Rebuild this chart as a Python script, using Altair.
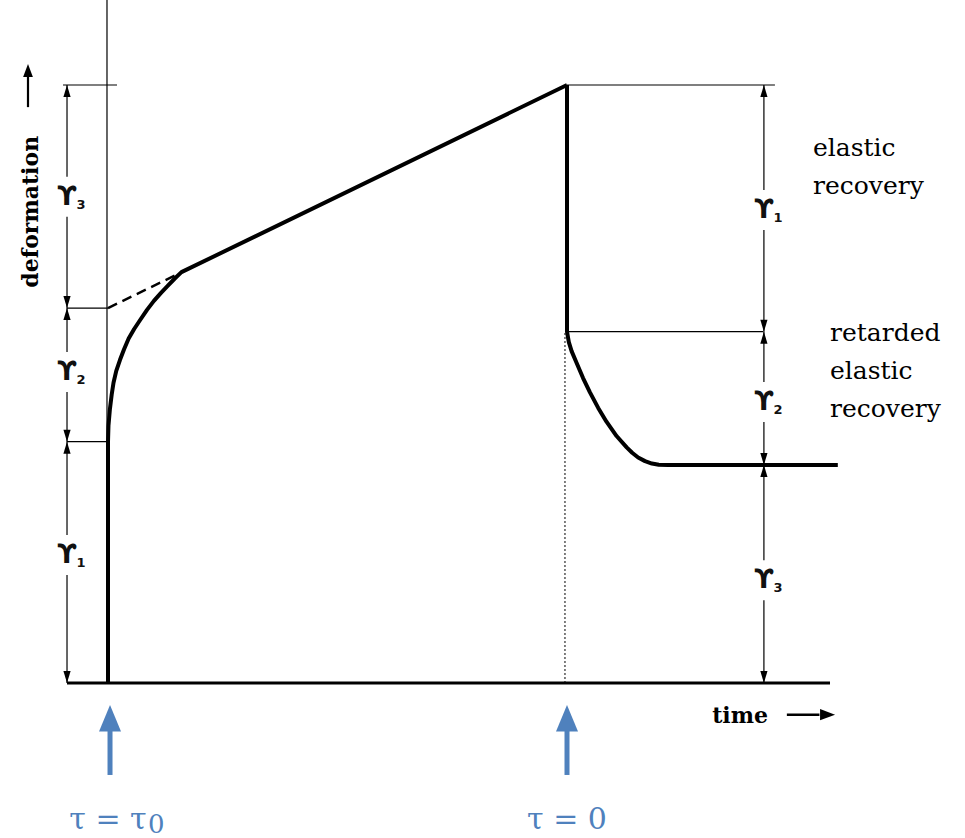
import altair as alt
import pandas as pd

# ---------------- data (chart units: time t, deformation d) ----------------
# creep under stress (instantaneous + retarded + viscous flow)
creep_t = [0.0, 0.0, 0.01, 0.04, 0.08, 0.12, 0.18, 0.26, 0.35, 0.45, 0.57, 0.70, 0.85, 1.00, 1.15, 1.30, 1.45, 1.60, 10.0]
creep_d = [0.0, 40.35, 43.0, 45.7, 48.2, 50.2, 52.2, 54.0, 55.8, 57.6, 59.2, 60.7, 62.4, 63.9, 65.2, 66.4, 67.6, 68.7, 100.0]
# recovery after removal of stress
recov_t = [10.0, 10.0, 10.04, 10.10, 10.21, 10.35, 10.50, 10.68, 10.86, 11.08, 11.30, 11.42, 11.55, 11.70, 11.85, 12.00, 12.20, 15.90]
recov_d = [100.0, 58.75, 57.0, 55.5, 53.5, 51.0, 48.6, 46.0, 43.7, 41.3, 39.4, 38.5, 37.7, 37.1, 36.7, 36.5, 36.45, 36.45]
# extrapolated viscous-flow line (dashed)
dash_t = [0.0, 1.5]
dash_d = [62.7, 68.3]

# dimension arrows
left_bounds = [0.0, 40.35, 62.7, 100.0]
right_bounds = [0.0, 36.45, 58.75, 100.0]
left_sub = ["1", "2", "3"]
left_lab_d = [21.4, 52.0, 81.3]
right_sub = ["3", "2", "1"]
right_lab_d = [17.2, 47.0, 79.1]
LEFT_T = -0.893
RIGHT_T = 14.29

# thin guide lines: (t1, d1, t2, d2)
thin_t1 = [-0.022, -0.98, -0.893, -0.893, 10.0, 10.0, -0.893, 14.29]
thin_d1 = [0.0, 100.0, 62.7, 40.35, 100.0, 58.75, 0.0, 0.0]
thin_t2 = [-0.022, 0.196, 0.0, 0.0, 14.53, 14.27, -0.893, 14.29]
thin_d2 = [114.2, 100.0, 62.7, 40.35, 100.0, 58.75, 100.0, 100.0]

base_t = [-0.893, 15.73]
base_d = [0.0, 0.0]

dotted_t = [9.956, 9.956]
dotted_d = [0.0, 58.75]

# stress markers
stress_t = [0.044, 10.0]
stress_labels = ["τ = τ", "τ = 0"]
stress_label_t = [0.0, 10.0]

right_text = ["elastic", "recovery", "retarded", "elastic", "recovery"]
right_text_t = [15.36, 15.36, 15.73, 15.73, 15.73]
right_text_d = [89.5, 83.1, 58.5, 52.2, 45.8]

# ---------------- scales ----------------
PX_T = 45.9
PX_D = 5.98
X0, Y0 = 108, 683
W, H = 965, 838
xs = alt.Scale(domain=[-X0 / PX_T, (W - X0) / PX_T], nice=False, zero=False)
ys = alt.Scale(domain=[(Y0 - H) / PX_D, Y0 / PX_D], nice=False, zero=False)


def X(f="t"):
    return alt.X(f"{f}:Q", scale=xs, axis=None)


def Y(f="d"):
    return alt.Y(f"{f}:Q", scale=ys, axis=None)


BLUE = "#4f81bd"
UP = "M0,0L-0.6,2L0.6,2Z"
DOWN = "M0,0L-0.6,-2L0.6,-2Z"
RIGHT = "M0,0L-2,-0.75L-2,0.75Z"
BIGUP = "M0,0L-1,2.4L1,2.4Z"

layers = []

# thin guide lines
thin_df = pd.DataFrame({"t": thin_t1, "d": thin_d1, "t2": thin_t2, "d2": thin_d2})
layers.append(alt.Chart(thin_df).mark_rule(color="black", strokeWidth=1.2).encode(
    x=X(), y=Y(), x2="t2:Q", y2="d2:Q"))

# baseline
base_df = pd.DataFrame({"t": base_t, "d": base_d})
layers.append(alt.Chart(base_df).mark_line(color="black", strokeWidth=2.8).encode(x=X(), y=Y()))

# dotted line
dot_df = pd.DataFrame({"t": dotted_t, "d": dotted_d})
layers.append(alt.Chart(dot_df).mark_line(color="black", strokeWidth=1, strokeDash=[2, 2]).encode(x=X(), y=Y()))

# white gaps behind the labels
gap_df = pd.DataFrame({
    "t": [LEFT_T] * 3 + [RIGHT_T] * 3,
    "d": left_lab_d + right_lab_d,
})
layers.append(alt.Chart(gap_df).mark_square(color="white", opacity=1, size=1600).encode(x=X(), y=Y()))

# gamma labels
lab_df = pd.DataFrame({
    "t": [LEFT_T] * 3 + [RIGHT_T] * 3,
    "d": left_lab_d + right_lab_d,
    "sub": left_sub + right_sub,
    "g": ["ϒ"] * 6,
})
layers.append(alt.Chart(lab_df).mark_text(font="DejaVu Sans", fontSize=26, fontWeight="bold",
                                          color="#111", align="center", baseline="middle").encode(
    x=X(), y=Y(), text="g:N"))
layers.append(alt.Chart(lab_df).mark_text(font="DejaVu Sans", fontSize=13, fontWeight="bold",
                                          color="#111", align="center", baseline="middle", dx=14, dy=8).encode(
    x=X(), y=Y(), text="sub:N"))

# arrowheads on the dimension lines
up_df = pd.DataFrame({"t": [LEFT_T] * 3 + [RIGHT_T] * 3,
                      "d": left_bounds[1:] + right_bounds[1:]})
down_df = pd.DataFrame({"t": [LEFT_T] * 3 + [RIGHT_T] * 3,
                        "d": left_bounds[:-1] + right_bounds[:-1]})
layers.append(alt.Chart(up_df).mark_point(shape=UP, filled=True, size=144, color="black",
                                          opacity=1, strokeWidth=0).encode(x=X(), y=Y()))
layers.append(alt.Chart(down_df).mark_point(shape=DOWN, filled=True, size=144, color="black",
                                            opacity=1, strokeWidth=0).encode(x=X(), y=Y()))

# dashed extrapolation
dash_df = pd.DataFrame({"t": dash_t, "d": dash_d})
layers.append(alt.Chart(dash_df).mark_line(color="black", strokeWidth=2.4, strokeDash=[10, 6]).encode(
    x=X(), y=Y()))

# main curve
curve_df = pd.concat([
    pd.DataFrame({"t": creep_t, "d": creep_d, "seg": "creep", "o": range(len(creep_t))}),
    pd.DataFrame({"t": recov_t, "d": recov_d, "seg": "recovery", "o": range(len(recov_t))}),
])
layers.append(alt.Chart(curve_df).mark_line(color="black", strokeWidth=4, strokeJoin="round",
                                            strokeCap="butt").encode(
    x=X(), y=Y(), detail="seg:N", order="o:Q"))

# axis titles
layers.append(alt.Chart(pd.DataFrame({"t": [-1.67], "d": [78.8], "s": ["deformation"]})).mark_text(
    font="DejaVu Serif", fontWeight="bold", fontSize=22, angle=270, align="center",
    baseline="middle", color="black").encode(x=X(), y=Y(), text="s:N"))
layers.append(alt.Chart(pd.DataFrame({"t": [-1.743, -1.743], "d": [96.3, 101.5]})).mark_line(
    color="black", strokeWidth=2.2).encode(x=X(), y=Y()))
layers.append(alt.Chart(pd.DataFrame({"t": [-1.743], "d": [103.5]})).mark_point(
    shape="M0,0L-0.75,2L0.75,2Z", filled=True, size=169, color="black", opacity=1,
    strokeWidth=0).encode(x=X(), y=Y()))

layers.append(alt.Chart(pd.DataFrame({"t": [13.77], "d": [-5.52], "s": ["time"]})).mark_text(
    font="DejaVu Serif", fontWeight="bold", fontSize=22, align="center",
    baseline="middle", color="black").encode(x=X(), y=Y(), text="s:N"))
layers.append(alt.Chart(pd.DataFrame({"t": [14.79, 15.5], "d": [-5.3, -5.3]})).mark_line(
    color="black", strokeWidth=2.5).encode(x=X(), y=Y()))
layers.append(alt.Chart(pd.DataFrame({"t": [15.84], "d": [-5.3]})).mark_point(
    shape=RIGHT, filled=True, size=225, color="black", opacity=1, strokeWidth=0).encode(x=X(), y=Y()))

# right annotations
layers.append(alt.Chart(pd.DataFrame({"t": right_text_t, "d": right_text_d, "s": right_text})).mark_text(
    font="DejaVu Serif", fontSize=25, align="left", baseline="middle", color="black").encode(
    x=X(), y=Y(), text="s:N"))

# stress arrows (blue)
shaft_df = pd.DataFrame({"t": stress_t, "d": [-15.38, -15.38], "d2": [-7.5, -7.5]})
layers.append(alt.Chart(shaft_df).mark_rule(color=BLUE, strokeWidth=5).encode(x=X(), y=Y(), y2="d2:Q"))
layers.append(alt.Chart(pd.DataFrame({"t": stress_t, "d": [-3.68, -3.68]})).mark_point(
    shape=BIGUP, filled=True, size=484, color=BLUE, opacity=1, strokeWidth=0).encode(x=X(), y=Y()))
layers.append(alt.Chart(pd.DataFrame({"t": stress_label_t, "d": [-22.9, -22.9], "s": stress_labels})).mark_text(
    font="DejaVu Serif", fontSize=30, align="center", baseline="middle", color=BLUE).encode(
    x=X(), y=Y(), text="s:N"))
layers.append(alt.Chart(pd.DataFrame({"t": [1.05], "d": [-23.8], "s": ["0"]})).mark_text(
    font="DejaVu Serif", fontSize=26, align="center", baseline="middle", color=BLUE).encode(
    x=X(), y=Y(), text="s:N"))

chart = alt.layer(*layers).properties(
    width=W, height=H, padding=0, autosize="none", background="white"
).configure_view(stroke=None)

chart.save("out.html", embed_options={"renderer": "svg", "actions": False})
